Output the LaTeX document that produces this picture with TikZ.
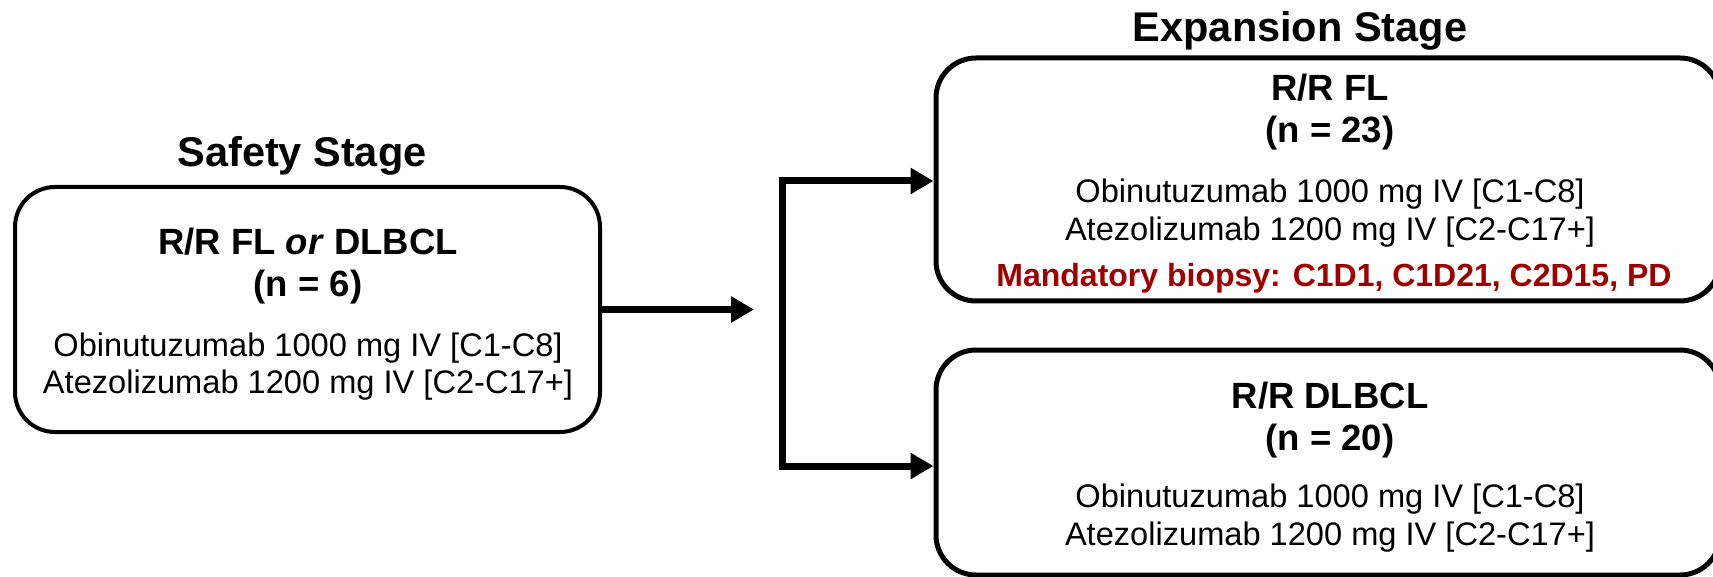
\documentclass[tikz,border=0pt]{standalone}
\usepackage{fontspec}
\setmainfont{Liberation Sans}
\usetikzlibrary{arrows.meta}
\definecolor{biopsyred}{HTML}{9E0000}
\begin{document}
\begin{tikzpicture}[x=1pt,y=-1pt,
  box/.style={draw=black, rounded corners=40pt, inner sep=0pt, fill=white},
  stagetitle/.style={font=\fontsize{41.5}{46}\selectfont\bfseries, anchor=base, inner sep=0pt},
  cohort/.style={font=\fontsize{36.5}{40}\selectfont\bfseries, anchor=base, inner sep=0pt},
  drug/.style={font=\fontsize{32.6}{37}\selectfont, anchor=base, inner sep=0pt},
  biopsy/.style={font=\fontsize{32}{36}\selectfont\bfseries, text=biopsyred, anchor=base, inner sep=0pt},
  conn/.style={draw=black, line width=7pt, line join=miter},
  tip/.style={-{Triangle[length=23pt,width=25pt]}}
]
\useasboundingbox (0,0) rectangle (1713,577);
\fill[white] (0,0) rectangle (1713,577);

% boxes
\node[box, line width=4pt, minimum width=585pt, minimum height=245pt] (safety) at (307.5,309.5) {};
\node[box, line width=5pt, minimum width=784pt, minimum height=243pt] (fl) at (1328,179.5) {};
\node[box, line width=5pt, minimum width=784pt, minimum height=225pt] (dlbcl) at (1328,462.5) {};

% stage titles
\node[stagetitle] (safetytitle) at (302,167) {Safety Stage};
\node[stagetitle] (exptitle) at (1300,42) {Expansion Stage};

% safety box text
\node[cohort] (s1) at (308,255) {R/R FL \textit{or} DLBCL};
\node[cohort] (s2) at (308,296.5) {(n = 6)};
\node[drug] (s3) at (308,356) {Obinutuzumab 1000 mg IV [C1-C8]};
\node[drug] (s4) at (308,393) {Atezolizumab 1200 mg IV [C2-C17+]};

% FL box text
\node[cohort] (f1) at (1330,101) {R/R FL};
\node[cohort] (f2) at (1330,143) {(n = 23)};
\node[drug] (f3) at (1330,203) {Obinutuzumab 1000 mg IV [C1-C8]};
\node[drug] (f4) at (1330,240.5) {Atezolizumab 1200 mg IV [C2-C17+]};
\node[biopsy] (f5) at (1334,287) {Mandatory biopsy: C1D1, C1D21, C2D15, PD};

% DLBCL box text
\node[cohort] (d1) at (1330,408) {R/R DLBCL};
\node[cohort] (d2) at (1330,450) {(n = 20)};
\node[drug] (d3) at (1330,507) {Obinutuzumab 1000 mg IV [C1-C8]};
\node[drug] (d4) at (1330,545) {Atezolizumab 1200 mg IV [C2-C17+]};

% connectors
\coordinate (arrowend) at (754,309.5);
\coordinate (fork) at (782,318);
\draw[conn, tip] (safety.east) -- (arrowend);
\draw[conn, {Triangle[length=23pt,width=25pt]}-{Triangle[length=23pt,width=25pt]}]
  ([yshift=-1.5pt]fl.west) -| (fork) |- ([yshift=-3.5pt]dlbcl.west);
\end{tikzpicture}
\end{document}
